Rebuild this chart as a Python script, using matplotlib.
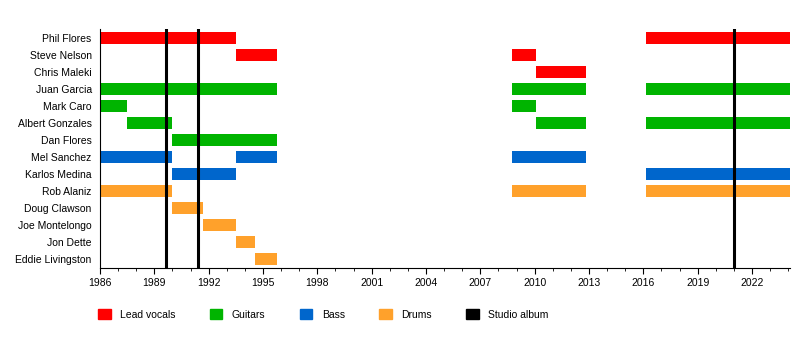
import matplotlib.pyplot as plt
from matplotlib.patches import Patch
from matplotlib.ticker import MultipleLocator

plt.rcParams['font.family'] = ['Liberation Sans', 'DejaVu Sans']

# band members, top to bottom
members = ["Phil Flores", "Steve Nelson", "Chris Maleki", "Juan Garcia", "Mark Caro",
           "Albert Gonzales", "Dan Flores", "Mel Sanchez", "Karlos Medina", "Rob Alaniz",
           "Doug Clawson", "Joe Montelongo", "Jon Dette", "Eddie Livingston"]

# role of each member
roles = ["vocals", "vocals", "vocals", "guitars", "guitars", "guitars", "guitars",
         "bass", "bass", "drums", "drums", "drums", "drums", "drums"]

# (start, end) periods per member, in years
periods = [
    [(1986.0, 1993.5), (2016.15, 2024.1)],
    [(1993.5, 1995.8), (2008.75, 2010.1)],
    [(2010.1, 2012.85)],
    [(1986.0, 1995.8), (2008.75, 2012.85), (2016.15, 2024.1)],
    [(1986.0, 1987.5), (2008.75, 2010.1)],
    [(1987.5, 1990.0), (2010.1, 2012.85), (2016.15, 2024.1)],
    [(1990.0, 1995.8)],
    [(1986.0, 1990.0), (1993.5, 1995.8), (2008.75, 2012.85)],
    [(1990.0, 1993.5), (2016.15, 2024.1)],
    [(1986.0, 1990.0), (2008.75, 2012.85), (2016.15, 2024.1)],
    [(1990.0, 1991.7)],
    [(1991.7, 1993.5)],
    [(1993.5, 1994.55)],
    [(1994.55, 1995.8)],
]

albums = [1989.65, 1991.4, 2021.0]

role_colors = {"vocals": "#ff0000", "guitars": "#00b400", "bass": "#0066cc", "drums": "#ffa12b"}
role_labels = {"vocals": "Lead vocals", "guitars": "Guitars", "bass": "Bass", "drums": "Drums"}

fig = plt.figure(figsize=(8, 3.64), dpi=100)
ax = fig.add_axes([0.125, 0.264, 0.8625, 0.656])

for i, (name, role) in enumerate(zip(members, roles)):
    for s, e in periods[i]:
        ax.barh(i, e - s, left=s, height=0.7, color=role_colors[role], zorder=2)

for a in albums:
    ax.axvline(a, color="black", lw=2.2, zorder=3)

ax.set_yticks(range(len(members)))
ax.set_yticklabels(members, fontsize=7.5)
ax.set_ylim(13.5, -0.5)
ax.set_xlim(1986, 2024.1)
ax.xaxis.set_major_locator(MultipleLocator(3))
ax.xaxis.set_minor_locator(MultipleLocator(1))
ax.tick_params(axis='x', labelsize=7.5, length=4, width=0.8)
ax.tick_params(axis='x', which='minor', length=2, width=0.6)
ax.tick_params(axis='y', length=0, pad=6)
for sp in ["top", "right"]:
    ax.spines[sp].set_visible(False)

handles = [Patch(color=role_colors[r], label=role_labels[r]) for r in ["vocals", "guitars", "bass", "drums"]]
handles.append(Patch(color="black", label="Studio album"))
fig.legend(handles=handles, loc="center left", bbox_to_anchor=(0.111, 0.137), ncol=5,
           frameon=False, fontsize=7.5, handlelength=1.2, handleheight=1.2,
           handletextpad=0.9, columnspacing=3.3)

fig.savefig("out.png", dpi=100)
